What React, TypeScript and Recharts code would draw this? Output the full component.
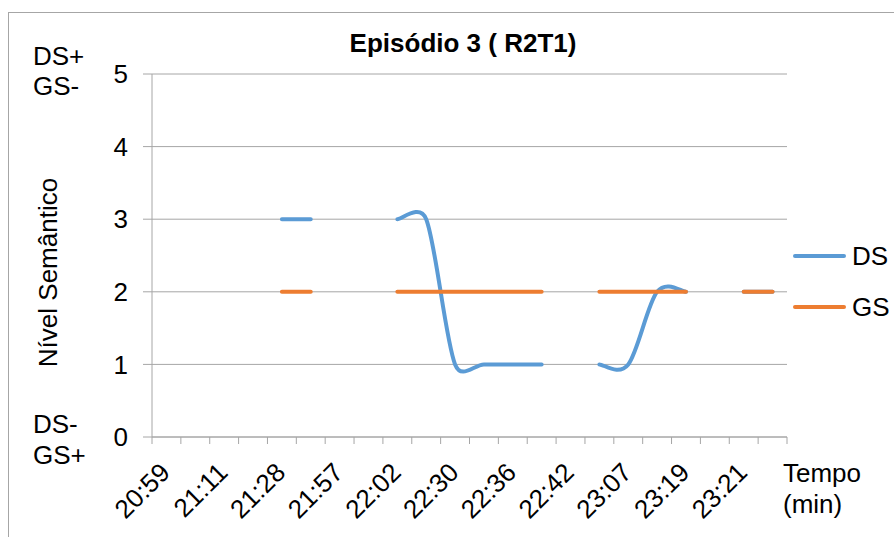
import { LineChart, Line, XAxis, YAxis, CartesianGrid, Legend } from 'recharts';

const FONT = '"Liberation Sans", Arial, sans-serif';

// 22 time slots on the axis, only every other one carries a label
const timeLabels = ['20:59', '21:11', '21:28', '21:57', '22:02', '22:30', '22:36', '22:42', '23:07', '23:19', '23:21'];
const dsValues = [null, null, null, null, 3, 3, null, null, 3, 3, 1, 1, 1, 1, null, 1, 1, 2, 2, null, 2, 2];
const gsValues = [null, null, null, null, 2, 2, null, null, 2, 2, 2, 2, 2, 2, null, 2, 2, 2, 2, null, 2, 2];
const levelTicks = [0, 1, 2, 3, 4, 5];

const slotCount = dsValues.length;
const data = dsValues.map((ds, i) => ({ slot: i + 0.5, DS: ds, GS: gsValues[i] }));
// tick marks sit on slot borders, labels in the middle of every other slot
const borderTicks = Array.from({ length: slotCount + 1 }, (_, i) => i);
const labelTicks = timeLabels.map((_, i) => i * 2 + 0.5);
const xTicks = [...borderTicks, ...labelTicks].sort((a, b) => a - b);

// Excel-like smoothed line: cardinal tangents, control arm capped by segment length
const excelCurve = (context: any) => {
  let pts: number[][] = [];
  const arm = (from: number[], a: number[], b: number[], segLen: number, sign: number) => {
    const tx = b[0] - a[0];
    const ty = b[1] - a[1];
    const tl = Math.hypot(tx, ty);
    if (!tl) return [from[0], from[1]];
    const d = Math.min(tl / 6, 0.6 * segLen);
    return [from[0] + (sign * tx * d) / tl, from[1] + (sign * ty * d) / tl];
  };
  return {
    areaStart() {},
    areaEnd() {},
    lineStart() {
      pts = [];
    },
    lineEnd() {
      const n = pts.length;
      if (!n) return;
      context.moveTo(pts[0][0], pts[0][1]);
      if (n === 1) {
        context.lineTo(pts[0][0], pts[0][1]);
        return;
      }
      for (let i = 0; i < n - 1; i++) {
        const p0 = pts[Math.max(i - 1, 0)];
        const p1 = pts[i];
        const p2 = pts[i + 1];
        const p3 = pts[Math.min(i + 2, n - 1)];
        const seg = Math.hypot(p2[0] - p1[0], p2[1] - p1[1]);
        const c1 = arm(p1, p0, p2, seg, 1);
        const c2 = arm(p2, p1, p3, seg, -1);
        context.bezierCurveTo(c1[0], c1[1], c2[0], c2[1], p2[0], p2[1]);
      }
    },
    point(x: number, y: number) {
      pts.push([+x, +y]);
    },
  };
};

const SlotTick = ({ x, y, payload }: any) => {
  const v = payload.value;
  if (Number.isInteger(v)) {
    return <line x1={x} y1={y} x2={x} y2={y + 7} stroke="#a6a6a6" strokeWidth={1} />;
  }
  const label = timeLabels[Math.round((v - 0.5) / 2)];
  const ax = x - 8;
  const ay = y + 24;
  return (
    <text
      x={ax}
      y={ay}
      dy="0.71em"
      transform={`rotate(-45 ${ax} ${ay})`}
      textAnchor="end"
      fontSize={26}
      fontFamily={FONT}
      fill="#000"
    >
      {label}
    </text>
  );
};

const renderLegend = ({ payload }: any) => (
  <div style={{ fontFamily: FONT, fontSize: 26, color: '#000', whiteSpace: 'nowrap' }}>
    {(payload || []).map((item: any) => (
      <div key={item.value} style={{ display: 'flex', alignItems: 'center', height: 51 }}>
        <svg width={59} height={8}>
          <line x1={2} y1={4} x2={51} y2={4} stroke={item.color} strokeWidth={4} strokeLinecap="round" />
        </svg>
        <span>{item.value}</span>
      </div>
    ))}
  </div>
);

export default function App() {
  return (
    <div style={{ position: 'relative', width: 894, height: 537 }}>
      <style>{'body{margin:0}'}</style>
      <div style={{ position: 'absolute', left: 8, top: 8, width: 886, height: 529, fontFamily: FONT }}>
        <div
          style={{
            position: 'absolute',
            left: 0,
            top: 4,
            width: 886,
            height: 525,
            boxSizing: 'border-box',
            borderLeft: '1px solid #a6a6a6',
            borderTop: '1px solid #a6a6a6',
          }}
        />
        <div style={{ position: 'absolute', left: 0, top: 0 }}>
          <LineChart width={886} height={521} data={data} margin={{ top: 66, right: 107, bottom: 0, left: 0 }}>
            <CartesianGrid vertical={false} stroke="#a6a6a6" />
            <XAxis
              type="number"
              dataKey="slot"
              domain={[0, slotCount]}
              ticks={xTicks}
              interval={0}
              tick={<SlotTick />}
              tickLine={false}
              tickSize={0}
              tickMargin={0}
              height={92}
              stroke="#a6a6a6"
            />
            <YAxis
              type="number"
              domain={[0, 5]}
              ticks={levelTicks}
              interval={0}
              width={144}
              tickSize={9}
              tickMargin={15}
              stroke="#a6a6a6"
              tick={{ fill: '#000', fontSize: 26, fontFamily: FONT }}
            />
            <Legend
              layout="vertical"
              align="center"
              verticalAlign="middle"
              content={renderLegend}
              wrapperStyle={{ left: 785, top: 222.5, width: 100 }}
            />
            <Line
              type={excelCurve as any}
              dataKey="DS"
              name="DS"
              stroke="#5B9BD5"
              strokeWidth={4}
              strokeLinecap="round"
              dot={false}
              activeDot={false}
              isAnimationActive={false}
            />
            <Line
              type={excelCurve as any}
              dataKey="GS"
              name="GS"
              stroke="#ED7D31"
              strokeWidth={4}
              strokeLinecap="round"
              dot={false}
              activeDot={false}
              isAnimationActive={false}
            />
          </LineChart>
        </div>
        <svg
          width={886}
          height={521}
          style={{ position: 'absolute', left: 0, top: 0, pointerEvents: 'none', overflow: 'visible' }}
          fontFamily={FONT}
          fontSize={26}
          fill="#000"
        >
          <text x={455} y={44} textAnchor="middle" fontWeight="bold">
            Episódio 3 ( R2T1)
          </text>
          <text x={25} y={57}>DS+</text>
          <text x={25} y={87}>GS-</text>
          <text x={25} y={425}>DS-</text>
          <text x={25} y={456}>GS+</text>
          <text x={48.5} y={264.5} textAnchor="middle" transform="rotate(-90 48.5 264.5)">
            Nível Semântico
          </text>
          <text x={775} y={474}>Tempo</text>
          <text x={775} y={505}>(min)</text>
        </svg>
      </div>
    </div>
  );
}
